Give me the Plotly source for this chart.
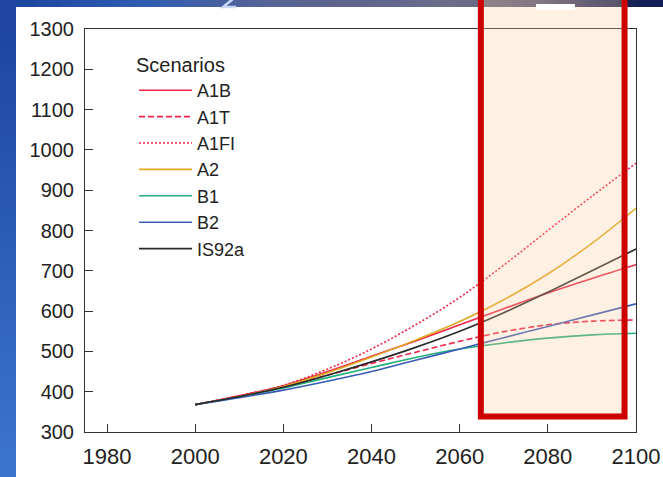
import base64
import struct
import zlib

import plotly.graph_objects as go

# Projected atmospheric CO2 concentration (ppm) per emissions scenario
years = [2000, 2010, 2020, 2030, 2040, 2050, 2060, 2070, 2080, 2090, 2100]
a1b = [368, 390, 415, 450, 488, 526, 566, 606, 645, 681, 715]
a1t = [368, 389, 412, 441, 470, 498, 525, 549, 566, 575, 578]
a1fi = [368, 390, 416, 456, 506, 566, 634, 714, 800, 885, 967]
a2 = [368, 388, 413, 447, 486, 528, 574, 628, 692, 768, 855]
b1 = [368, 387, 409, 435, 460, 485, 506, 521, 533, 541, 545]
b2 = [368, 385, 404, 426, 450, 478, 506, 534, 562, 590, 618]
is92a = [368, 388, 411, 441, 474, 510, 550, 596, 647, 700, 754]

scenario_names = ["A1B", "A1T", "A1FI", "A2", "B1", "B2", "IS92a"]
scenario_values = [a1b, a1t, a1fi, a2, b1, b2, is92a]
scenario_colors = ["#ee2448", "#ee2448", "#ee2448", "#e0a820", "#22b07a", "#3a5cb8", "#2a2a2a"]
scenario_dashes = ["solid", "6px,3px", "2px,2px", "solid", "solid", "solid", "solid"]

x_ticks = [1980, 2000, 2020, 2040, 2060, 2080, 2100]
y_ticks = [300, 400, 500, 600, 700, 800, 900, 1000, 1100, 1200, 1300]

# highlighted period
focus_start, focus_end = 2064.8, 2097.4

W, H = 663, 477
L, R, T, B = 85, 636, 29, 432


def px(x):
    return (x - L) / (R - L)


def py(y):
    return (B - y) / (B - T)


def png_uri(pixels, w, h):
    raw = b"".join(
        b"\x00" + bytes(v for p in pixels[r * w:(r + 1) * w] for v in p) for r in range(h)
    )

    def chunk(tag, data):
        return (struct.pack(">I", len(data)) + tag + data
                + struct.pack(">I", zlib.crc32(tag + data) & 0xFFFFFFFF))

    png = (b"\x89PNG\r\n\x1a\n"
           + chunk(b"IHDR", struct.pack(">IIBBBBB", w, h, 8, 2, 0, 0, 0))
           + chunk(b"IDAT", zlib.compress(raw))
           + chunk(b"IEND", b""))
    return "data:image/png;base64," + base64.b64encode(png).decode()


# slide backdrop: blue gradient, lighter toward the bottom, greyer in the top middle
gw, gh = 14, 10
top_row = [(30, 70, 160), (38, 80, 170), (45, 88, 175), (55, 95, 175), (70, 95, 160),
           (85, 100, 150), (90, 100, 145), (95, 100, 140), (100, 105, 140), (110, 110, 140),
           (100, 100, 130), (80, 85, 120), (40, 50, 100), (20, 32, 85)]
pix = []
for r in range(gh):
    t = r / (gh - 1)
    for c in range(gw):
        base = top_row[c]
        low = (60, 115, 205)
        pix.append(tuple(int(base[k] * (1 - t) + low[k] * t) for k in range(3)))
backdrop = png_uri(pix, gw, gh)

fig = go.Figure()

for name, vals, col, dash in zip(scenario_names, scenario_values, scenario_colors, scenario_dashes):
    fig.add_trace(go.Scatter(
        x=years, y=vals, name=name, mode="lines",
        line=dict(color=col, width=1.6, dash=dash, shape="spline", smoothing=1.0),
    ))

shapes = [
    # white chart panel
    dict(type="rect", xref="paper", yref="paper", layer="below",
         x0=px(16), x1=px(W + 5), y0=py(H + 5), y1=py(7),
         fillcolor="white", line=dict(width=0)),
    # highlighted period
    dict(type="rect", xref="x", yref="paper", layer="above",
         x0=focus_start, x1=focus_end, y0=py(416.5), y1=py(-10),
         fillcolor="rgba(250,200,150,0.28)", line=dict(color="#cc0000", width=6)),
    # small white bar in the slide header
    dict(type="rect", xref="paper", yref="paper", layer="above",
         x0=px(536), x1=px(575), y0=py(10), y1=py(4),
         fillcolor="white", line=dict(width=0)),
    # fragment of the slide title
    dict(type="path", xref="paper", yref="paper", layer="above",
         path=f"M{px(233)},{py(-1)} L{px(223)},{py(7)} L{px(236)},{py(7)}",
         line=dict(color="#c8d8f5", width=2.5)),
]

fig.update_layout(
    width=W, height=H,
    margin=dict(l=L, r=W - R, t=T, b=H - B, pad=0, autoexpand=False),
    paper_bgcolor="#2a56b0",
    plot_bgcolor="white",
    font=dict(family="Liberation Sans, Arial, sans-serif", color="#222222"),
    images=[dict(source=backdrop, xref="paper", yref="paper",
                 x=px(0), y=py(0), sizex=px(W) - px(0), sizey=py(0) - py(H),
                 sizing="stretch", layer="below")],
    shapes=shapes,
    showlegend=True,
    legend=dict(
        x=px(134), y=py(46), xanchor="left", yanchor="top",
        bgcolor="rgba(0,0,0,0)", borderwidth=0,
        font=dict(size=18, color="#222222"),
        title=dict(text="Scenarios", font=dict(size=20, color="#222222")),
        itemwidth=53, tracegroupgap=0,
    ),
    xaxis=dict(
        range=[1975, 2100], tickvals=x_ticks, ticks="inside", ticklen=8,
        tickcolor="#333333", showline=True, linecolor="#333333", linewidth=1,
        mirror=True, showgrid=False, zeroline=False, automargin=False,
        tickfont=dict(size=22, color="#222222"), ticklabelstandoff=5,
    ),
    yaxis=dict(
        range=[300, 1300], tickvals=y_ticks, ticks="inside", ticklen=8,
        tickcolor="#333333", showline=True, linecolor="#333333", linewidth=1,
        mirror=True, showgrid=False, zeroline=False, automargin=False,
        tickfont=dict(size=20, color="#222222"), ticklabelstandoff=6,
    ),
)

fig.write_html("out.html")
